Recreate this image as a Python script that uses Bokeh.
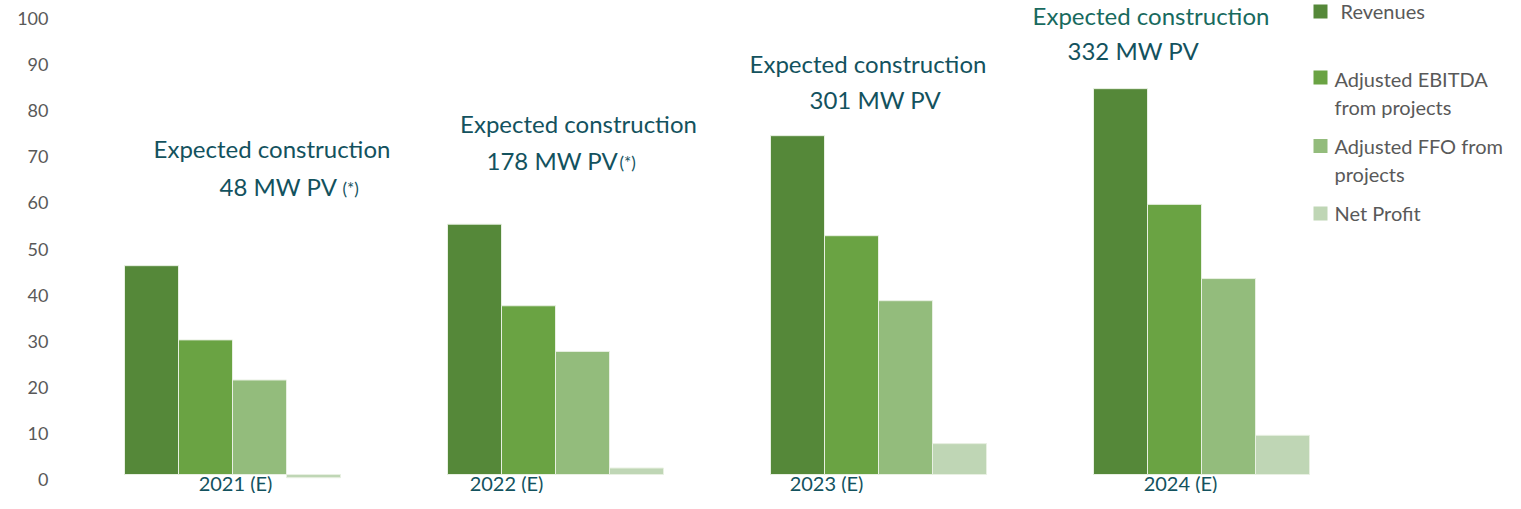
from bokeh.plotting import figure
from bokeh.models import Range1d, LinearAxis, FixedTicker, ColumnDataSource
from bokeh.core.properties import value
from bokeh.embed import file_html
from bokeh.resources import INLINE

# ---------------- data ----------------
years = ["2021 (E)", "2022 (E)", "2023 (E)", "2024 (E)"]
revenues = [45.3, 54.3, 73.5, 83.7]
adj_ebitda = [29.2, 36.6, 51.8, 58.6]
adj_ffo = [20.5, 26.7, 37.7, 42.5]
net_profit = [-0.7, 1.4, 6.7, 8.5]
series_labels = [["Revenues"], ["Adjusted EBITDA", "from projects"],
                 ["Adjusted FFO from", "projects"], ["Net Profit"]]
construction = ["Expected construction"] * 4
capacity = ["48 MW PV", "178 MW PV", "301 MW PV", "332 MW PV"]
notes = ["(*)", "(*)", "", ""]
y_ticks = list(range(0, 101, 10))

# ---------------- styles ----------------
colors = ["#558839", "#6AA343", "#93BC7C", "#BFD6B5"]
teal = "#13525E"
gray = "#595959"
FONT = "Lato"

W, H = 1505, 493

# picture-pixel helpers for annotation layout (pixels -> data coords)
def dx(px):
    return (px - 232) / 323.0

def dy(py):
    return (474 - py) / 4.61

p = figure(width=W, height=H,
           x_range=Range1d(dx(70), dx(W)),
           y_range=Range1d(dy(H), dy(0)),
           output_backend="svg", toolbar_location=None,
           x_axis_location=None, y_axis_location=None,
           min_border_left=70, min_border_right=0,
           min_border_top=0, min_border_bottom=0)
p.outline_line_color = None
p.grid.grid_line_color = None
p.background_fill_color = "white"
p.border_fill_color = "white"

# y axis: labels sit 5px below their gridline position in the reference
p.extra_y_ranges = {"ax": Range1d((479 - H) / 4.61, 479 / 4.61)}
ax = LinearAxis(y_range_name="ax", ticker=FixedTicker(ticks=y_ticks),
                axis_line_color=None, major_tick_line_color=None,
                minor_tick_line_color=None, major_tick_out=0, major_tick_in=0,
                minor_tick_out=0, minor_tick_in=0,
                major_label_standoff=22,
                major_label_text_font=FONT,
                major_label_text_font_size="18px",
                major_label_text_color=gray)
p.add_layout(ax, "left")

# ---------------- bars ----------------
w = 54 / 323.0
series = [revenues, adj_ebitda, adj_ffo, net_profit]
offsets = [-1.5, -0.5, 0.5, 1.5]
for vals, off, col in zip(series, offsets, colors):
    src = ColumnDataSource(dict(x=[i + off * w for i in range(len(years))],
                                top=vals, bottom=[0] * len(vals)))
    p.vbar(x="x", top="top", bottom="bottom", width=w, source=src,
           fill_color=col, line_color="#E8F0E2", line_width=1)

# ---------------- category labels ----------------
cat_x = [dx(235), dx(506), dx(826), dx(1180)]
p.text(x=cat_x, y=[dy(482)] * 4, text=years,
       text_font=value(FONT), text_font_size="20px", text_color=teal,
       text_align="center", text_baseline="middle")

# ---------------- annotations ----------------
l1_x = [dx(271.5), dx(578), dx(867.5), dx(1150.5)]
l1_y = [dy(148), dy(123), dy(63), dy(15)]
l1_col = [teal, teal, teal, "#186A5E"]
p.text(x=l1_x, y=l1_y, text=construction, text_color=l1_col,
       text_font=value(FONT), text_font_size="24px",
       text_align="center", text_baseline="middle")

l2_x = [dx(219), dx(486), dx(809), dx(1067)]
l2_y = [dy(186), dy(160), dy(99), dy(50)]
p.text(x=l2_x, y=l2_y, text=capacity, text_color=teal,
       text_font=value(FONT), text_font_size="24px",
       text_align="left", text_baseline="middle")

n_x = [dx(342), dx(619), dx(0), dx(0)]
n_y = [dy(188), dy(162), dy(0), dy(0)]
p.text(x=n_x, y=n_y, text=notes, text_color=teal,
       text_font=value(FONT), text_font_size="17px",
       text_align="left", text_baseline="middle")

# ---------------- legend ----------------
leg_sq_y = [dy(11), dy(77), dy(145.5), dy(213)]
p.scatter(x=[dx(1320)] * 4, y=leg_sq_y, marker="square", size=14,
          fill_color=colors, line_color=None)
leg_txt, leg_x, leg_y = [], [], []
leg_line_y = [[dy(10)], [dy(78), dy(106)], [dy(145), dy(173)], [dy(212)]]
for i, (lines, ys) in enumerate(zip(series_labels, leg_line_y)):
    for t, yy in zip(lines, ys):
        leg_txt.append(t)
        leg_x.append(dx(1340) if i == 0 else dx(1334))
        leg_y.append(yy)
p.text(x=leg_x, y=leg_y, text=leg_txt, text_color=gray,
       text_font=value(FONT), text_font_size="20px",
       text_align="left", text_baseline="middle")

open("out.html", "w").write(file_html(p, INLINE))
